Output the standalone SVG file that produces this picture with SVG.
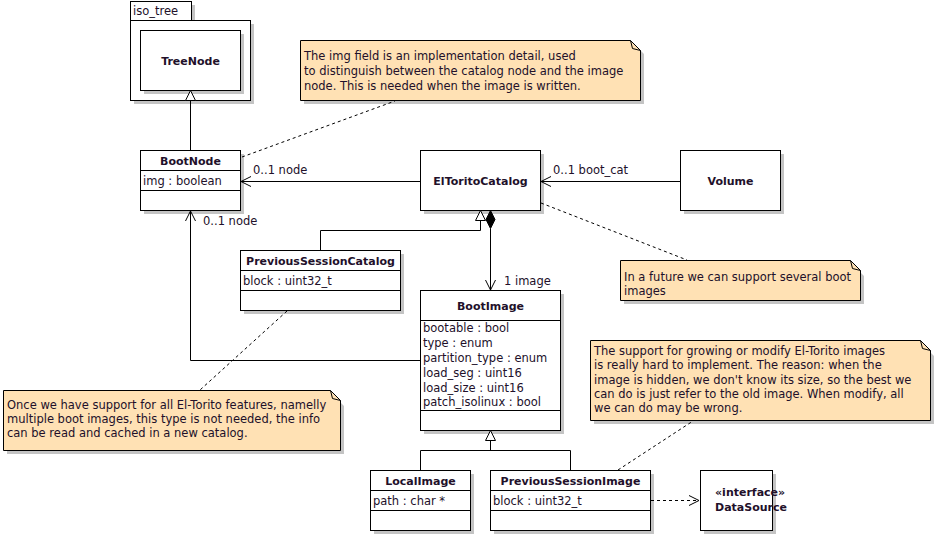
<svg xmlns="http://www.w3.org/2000/svg" width="935" height="535" viewBox="0 0 935 535">
  <style>
    text { font-family: "DejaVu Sans", "Liberation Sans", sans-serif; font-size: 11.5px; fill: #22102a; }
    .title { font-size: 11px; font-weight: bold; text-anchor: middle; }
    .stereo { font-size: 11px; font-weight: bold; }
    .box { fill: #ffffff; stroke: #000000; stroke-width: 1; }
    .shadow { fill: #c4c4c4; stroke: none; }
    .sep { stroke: #000000; stroke-width: 1; fill: none; }
    .note { fill: #ffe1b4; stroke: #000000; stroke-width: 1; }
    .line { stroke: #000000; stroke-width: 1; fill: none; }
    .dash { stroke: #000000; stroke-width: 1; fill: none; stroke-dasharray: 3,3; }
    .hollow { fill: #ffffff; stroke: #000000; stroke-width: 1; }
    .solid { fill: #000000; stroke: #000000; stroke-width: 1; }
  </style>

  <rect width="935" height="535" fill="#ffffff"/>

  <!-- package iso_tree -->
  <g id="pkg-iso_tree">
    <rect class="shadow" x="134" y="5" width="61" height="19"/>
    <rect class="shadow" x="134" y="24" width="120" height="80"/>
    <rect class="box" x="130.5" y="1.5" width="61" height="19"/>
    <rect class="box" x="130.5" y="20.5" width="120" height="80"/>
    <text x="133" y="15">iso_tree</text>
  </g>

  <g id="TreeNode">
    <rect class="shadow" x="144" y="34" width="100" height="60"/>
    <rect class="box" x="140.5" y="30.5" width="100" height="60"/>
    <text class="title" x="190.5" y="65">TreeNode</text>
  </g>

  <g id="BootNode">
    <rect class="shadow" x="144" y="154" width="100" height="60"/>
    <rect class="box" x="140.5" y="150.5" width="100" height="60"/>
    <line class="sep" x1="140.5" y1="170.5" x2="240.5" y2="170.5"/>
    <line class="sep" x1="140.5" y1="190.5" x2="240.5" y2="190.5"/>
    <text class="title" x="190.5" y="165">BootNode</text>
    <text x="143" y="185">img : boolean</text>
  </g>

  <g id="ElToritoCatalog">
    <rect class="shadow" x="424" y="154" width="120" height="60"/>
    <rect class="box" x="420.5" y="150.5" width="120" height="60"/>
    <text class="title" x="480.5" y="185">ElToritoCatalog</text>
  </g>

  <g id="Volume">
    <rect class="shadow" x="684" y="154" width="100" height="60"/>
    <rect class="box" x="680.5" y="150.5" width="100" height="60"/>
    <text class="title" x="730.5" y="185">Volume</text>
  </g>

  <g id="PreviousSessionCatalog">
    <rect class="shadow" x="244" y="254" width="160" height="60"/>
    <rect class="box" x="240.5" y="250.5" width="160" height="60"/>
    <line class="sep" x1="240.5" y1="270.5" x2="400.5" y2="270.5"/>
    <line class="sep" x1="240.5" y1="290.5" x2="400.5" y2="290.5"/>
    <text class="title" x="320.5" y="265">PreviousSessionCatalog</text>
    <text x="243" y="285">block : uint32_t</text>
  </g>

  <g id="BootImage">
    <rect class="shadow" x="424" y="294" width="140" height="140"/>
    <rect class="box" x="420.5" y="290.5" width="140" height="140"/>
    <line class="sep" x1="420.5" y1="320.5" x2="560.5" y2="320.5"/>
    <line class="sep" x1="420.5" y1="410.5" x2="560.5" y2="410.5"/>
    <text class="title" x="490.5" y="310">BootImage</text>
    <text x="423" y="332">bootable : bool</text>
    <text x="423" y="347">type : enum</text>
    <text x="423" y="362">partition_type : enum</text>
    <text x="423" y="377">load_seg : uint16</text>
    <text x="423" y="392">load_size : uint16</text>
    <text x="423" y="406">patch_isolinux : bool</text>
  </g>

  <g id="LocalImage">
    <rect class="shadow" x="374" y="474" width="100" height="60"/>
    <rect class="box" x="370.5" y="470.5" width="100" height="60"/>
    <line class="sep" x1="370.5" y1="490.5" x2="470.5" y2="490.5"/>
    <line class="sep" x1="370.5" y1="510.5" x2="470.5" y2="510.5"/>
    <text class="title" x="420.5" y="485">LocalImage</text>
    <text x="373" y="505">path : char *</text>
  </g>

  <g id="PreviousSessionImage">
    <rect class="shadow" x="494" y="474" width="160" height="60"/>
    <rect class="box" x="490.5" y="470.5" width="160" height="60"/>
    <line class="sep" x1="490.5" y1="490.5" x2="650.5" y2="490.5"/>
    <line class="sep" x1="490.5" y1="510.5" x2="650.5" y2="510.5"/>
    <text class="title" x="570.5" y="485">PreviousSessionImage</text>
    <text x="493" y="505">block : uint32_t</text>
  </g>

  <g id="DataSource">
    <rect class="shadow" x="704" y="474" width="72" height="60"/>
    <rect class="box" x="700.5" y="470.5" width="72" height="60"/>
    <text class="stereo" x="715" y="496">«interface»</text>
    <text class="stereo" x="715" y="511">DataSource</text>
  </g>

  <!-- comment notes -->
  <g id="note-img-field">
    <polygon class="shadow" points="304,44 634,44 644,54 644,104 304,104"/>
    <polygon class="note" points="300.5,40.5 630.5,40.5 640.5,50.5 640.5,100.5 300.5,100.5"/>
    <polyline class="line" points="630.5,40.5 632.5,48.5 640.5,50.5"/>
    <text x="304" y="60">The img field is an implementation detail, used</text>
    <text x="304" y="75">to distinguish between the catalog node and the image</text>
    <text x="304" y="90">node. This is needed when the image is written.</text>
  </g>

  <g id="note-future">
    <polygon class="shadow" points="624,264 852,264 864,276 864,304 624,304"/>
    <polygon class="note" points="620.5,260.5 850.5,260.5 860.5,270.5 860.5,300.5 620.5,300.5"/>
    <polyline class="line" points="850.5,260.5 852.5,268.5 860.5,270.5"/>
    <text x="624" y="281">In a future we can support several boot</text>
    <text x="624" y="295">images</text>
  </g>

  <g id="note-growing">
    <polygon class="shadow" points="594,344 922,344 934,356 934,424 594,424"/>
    <polygon class="note" points="590.5,340.5 920.5,340.5 930.5,350.5 930.5,420.5 590.5,420.5"/>
    <polyline class="line" points="920.5,340.5 922.5,348.5 930.5,350.5"/>
    <text x="594" y="355">The support for growing or modify El-Torito images</text>
    <text x="594" y="369">is really hard to implement. The reason: when the</text>
    <text x="594" y="384">image is hidden, we don't know its size, so the best we</text>
    <text x="594" y="398">can do is just refer to the old image. When modify, all</text>
    <text x="594" y="412">we can do may be wrong.</text>
  </g>

  <g id="note-catalog">
    <polygon class="shadow" points="7,394 332,394 344,406 344,454 7,454"/>
    <polygon class="note" points="3.5,390.5 330.5,390.5 340.5,400.5 340.5,450.5 3.5,450.5"/>
    <polyline class="line" points="330.5,390.5 332.5,398.5 340.5,400.5"/>
    <text x="7" y="409">Once we have support for all El-Torito features, namelly</text>
    <text x="7" y="423">multiple boot images, this type is not needed, the info</text>
    <text x="7" y="437">can be read and cached in a new catalog.</text>
  </g>

  <!-- connectors -->
  <g id="connectors">
    <!-- BootNode generalizes TreeNode -->
    <line class="line" x1="190.5" y1="150" x2="190.5" y2="100.5"/>
    <polygon class="hollow" points="190.5,90.5 185.5,100.5 195.5,100.5"/>

    <!-- ElToritoCatalog to BootNode -->
    <line class="line" x1="420" y1="181.5" x2="241" y2="181.5"/>
    <polyline class="line" points="251,176.5 241,181.5 251,186.5"/>
    <text x="253" y="174">0..1 node</text>

    <!-- Volume to ElToritoCatalog -->
    <line class="line" x1="680" y1="181.5" x2="541" y2="181.5"/>
    <polyline class="line" points="551,176.5 541,181.5 551,186.5"/>
    <text x="553" y="174">0..1 boot_cat</text>

    <!-- PreviousSessionCatalog generalizes ElToritoCatalog -->
    <polyline class="line" points="320.5,250 320.5,230.5 480.5,230.5 480.5,220.5"/>
    <polygon class="hollow" points="480.5,210.5 475.5,220.5 485.5,220.5"/>

    <!-- ElToritoCatalog composes BootImage -->
    <polygon class="solid" points="490.5,210.5 495,219.5 490.5,228.5 486,219.5"/>
    <line class="line" x1="490.5" y1="228.5" x2="490.5" y2="290"/>
    <polyline class="line" points="485.5,280 490.5,290 495.5,280"/>
    <text x="504" y="285">1 image</text>

    <!-- BootImage to BootNode -->
    <polyline class="line" points="420,360.5 190.5,360.5 190.5,211"/>
    <polyline class="line" points="185.5,221 190.5,211 195.5,221"/>
    <text x="203" y="225">0..1 node</text>

    <!-- LocalImage / PreviousSessionImage generalize BootImage -->
    <polygon class="hollow" points="490.5,430.5 485.5,440.5 495.5,440.5"/>
    <line class="line" x1="490.5" y1="440.5" x2="490.5" y2="450.5"/>
    <polyline class="line" points="420.5,470 420.5,450.5 570.5,450.5 570.5,470"/>

    <!-- PreviousSessionImage depends on DataSource -->
    <line class="dash" x1="651" y1="500.5" x2="699" y2="500.5"/>
    <polyline class="line" points="689,495.5 699,500.5 689,505.5"/>

    <!-- note anchors -->
    <line class="dash" x1="242" y1="157" x2="395" y2="101"/>
    <line class="dash" x1="541" y1="203" x2="687" y2="260"/>
    <line class="dash" x1="618" y1="470" x2="693" y2="421"/>
    <line class="dash" x1="287" y1="311" x2="200" y2="390"/>
  </g>
</svg>
